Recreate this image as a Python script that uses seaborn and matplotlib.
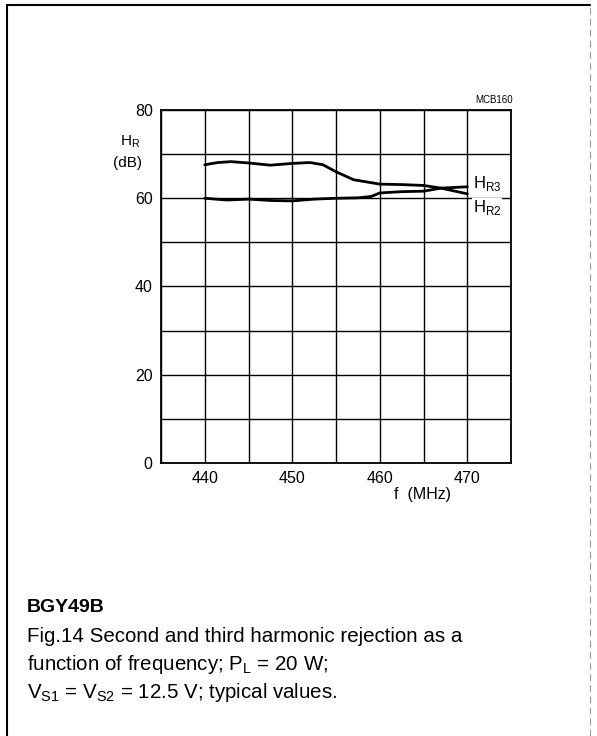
import numpy as np
import pandas as pd
import matplotlib.pyplot as plt
from matplotlib.lines import Line2D
import seaborn as sns

# values
freq_hr3 = [440, 441.5, 443, 445, 447.5, 450, 452, 453.5, 455, 457, 460, 462.5, 465, 467, 470]
hr3 = [67.6, 68.1, 68.3, 68.0, 67.5, 67.9, 68.1, 67.6, 66.0, 64.2, 63.2, 63.1, 62.9, 62.3, 61.0]
freq_hr2 = [440, 442.5, 445, 447.5, 450, 452.5, 455, 457.5, 459, 460, 462.5, 465, 467, 470]
hr2 = [60.0, 59.6, 59.8, 59.5, 59.4, 59.8, 60.0, 60.1, 60.4, 61.2, 61.5, 61.6, 62.3, 62.6]

df = pd.concat([
    pd.DataFrame({"f": freq_hr3, "HR": hr3, "curve": "HR3"}),
    pd.DataFrame({"f": freq_hr2, "HR": hr2, "curve": "HR2"}),
])

sns.set_style("white")
plt.rcParams["font.family"] = ["Liberation Sans", "DejaVu Sans"]
plt.rcParams["text.color"] = "black"
plt.rcParams["xtick.color"] = "black"
plt.rcParams["ytick.color"] = "black"

fig = plt.figure(figsize=(5.97, 7.36), dpi=100)
ax = fig.add_axes([0.2697, 0.371, 0.5864, 0.4795])

sns.lineplot(data=df, x="f", y="HR", units="curve", estimator=None, sort=False,
             color="black", linewidth=2.0, ax=ax, legend=False, zorder=3)

ax.set_xlim(435, 475)
ax.set_ylim(0, 80)
ax.set_xticks([440, 450, 460, 470])
ax.set_xticks(np.arange(435, 476, 5), minor=True)
ax.set_yticks([0, 20, 40, 60, 80])
ax.set_yticks(np.arange(0, 81, 10), minor=True)
ax.grid(True, which="both", color="black", linewidth=1.0)
ax.tick_params(which="both", length=0, labelsize=11.5, pad=6)
for s in ax.spines.values():
    s.set_color("black")
    s.set_linewidth(1.3)
ax.set_xlabel("")
ax.set_ylabel("")

box = dict(facecolor="white", edgecolor="none", pad=0.5)
ax.text(470.6, 63.4, "H$_{\\mathregular{R3}}$", fontsize=12, va="center", ha="left",
        bbox=box, zorder=4)
ax.text(470.6, 57.8, "H$_{\\mathregular{R2}}$", fontsize=12, va="center", ha="left",
        bbox=box, zorder=4)
fig.text(494 / 597, 1 - 100 / 736, "MCB160", fontsize=7, ha="center", va="center")
fig.text(130 / 597, 1 - 142 / 736, "H$_{\\mathregular{R}}$", fontsize=11, ha="center", va="center")
fig.text(128 / 597, 1 - 163 / 736, "(dB)", fontsize=11, ha="center", va="center")
fig.text(422 / 597, 1 - 494 / 736, "f  (MHz)", fontsize=11.5, ha="center", va="center")

# caption
fig.text(27 / 597, 1 - 607 / 736, "BGY49B", fontsize=14, fontweight="bold", va="center")
fig.text(27 / 597, 1 - 637 / 736, "Fig.14 Second and third harmonic rejection as a",
         fontsize=14.8, va="center")
fig.text(27 / 597, 1 - 665 / 736, "function of frequency; P$_{\\mathregular{L}}$ = 20 W;",
         fontsize=14.8, va="center")
fig.text(27 / 597, 1 - 692 / 736,
         "V$_{\\mathregular{S1}}$ = V$_{\\mathregular{S2}}$ = 12.5 V; typical values.",
         fontsize=14.8, va="center")

# page frame
fig.add_artist(Line2D([7 / 597, 7 / 597], [0, 1 - 5 / 736], color="black", linewidth=1.5,
                      transform=fig.transFigure))
fig.add_artist(Line2D([7 / 597, 590 / 597], [1 - 5 / 736, 1 - 5 / 736], color="black",
                      linewidth=1.5, transform=fig.transFigure))
fig.add_artist(Line2D([590 / 597, 590 / 597], [0, 1 - 5 / 736], color="0.6", linewidth=0.8,
                      linestyle=(0, (6, 4)), transform=fig.transFigure))

fig.savefig("out.png", dpi=100)
